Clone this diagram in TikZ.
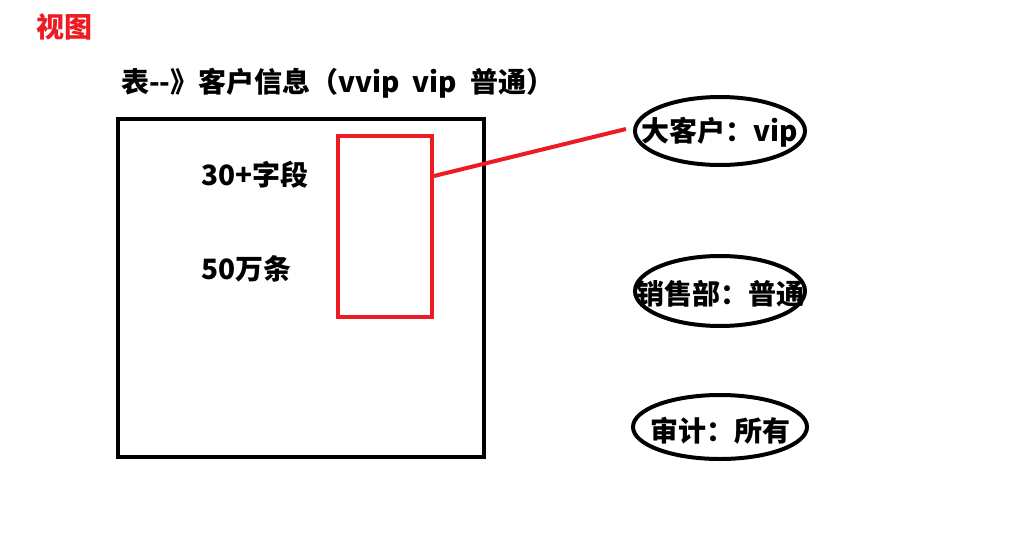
\documentclass[tikz,border=0pt]{standalone}
\usepackage{fontspec}
\setmainfont{Noto Sans CJK SC}
\usetikzlibrary{shapes.geometric,calc}
\definecolor{pred}{HTML}{ED1C24}
\begin{document}
\begin{tikzpicture}[x=1pt,y=-1pt,
  txt/.style={font=\fontsize{28}{32}\selectfont\bfseries, inner sep=0pt},
  oval/.style={draw=black, line width=4pt, ellipse, minimum width=170pt, minimum height=68pt, inner sep=0pt},
  boxline/.style={draw=black, line width=4pt},
  redbox/.style={draw=pred, line width=4pt},
  redline/.style={draw=pred, line width=4pt}]
\useasboundingbox[fill=white] (0,0) rectangle (1018,544);
\node[txt, text=pred, anchor=west] (title) at (36,27) {视图};
\node[txt, anchor=west] (head) at (121,83) {表-{}-》客户信息（vvip\ \ vip\ \ 普通）};
\draw[boxline] (118,119) rectangle (484,457);
\node[redbox, minimum width=94pt, minimum height=181pt, inner sep=0pt] (rr) at (385,226.5) {};
\node[txt, anchor=west] (f1) at (201,175) {30+字段};
\node[txt, anchor=west] (f2) at (201,269) {50万条};
\node[oval] (e1) at (720,131) {};
\node[txt] at ($(e1)+(0,1)$) {大客户：vip};
\node[oval, minimum width=170pt, minimum height=70pt] (e2) at (720,291) {};
\node[txt] at ($(e2)+(0,3)$) {销售部：普通};
\node[oval, minimum width=174pt, minimum height=64pt] (e3) at (720,427) {};
\node[txt] at ($(e3)+(0,4)$) {审计：所有};
\coordinate (rend) at ($(e1.west)+(-7,-2)$);
\draw[redline] ($(rr.north east)+(0,42)$) -- (rend);
\end{tikzpicture}
\end{document}
